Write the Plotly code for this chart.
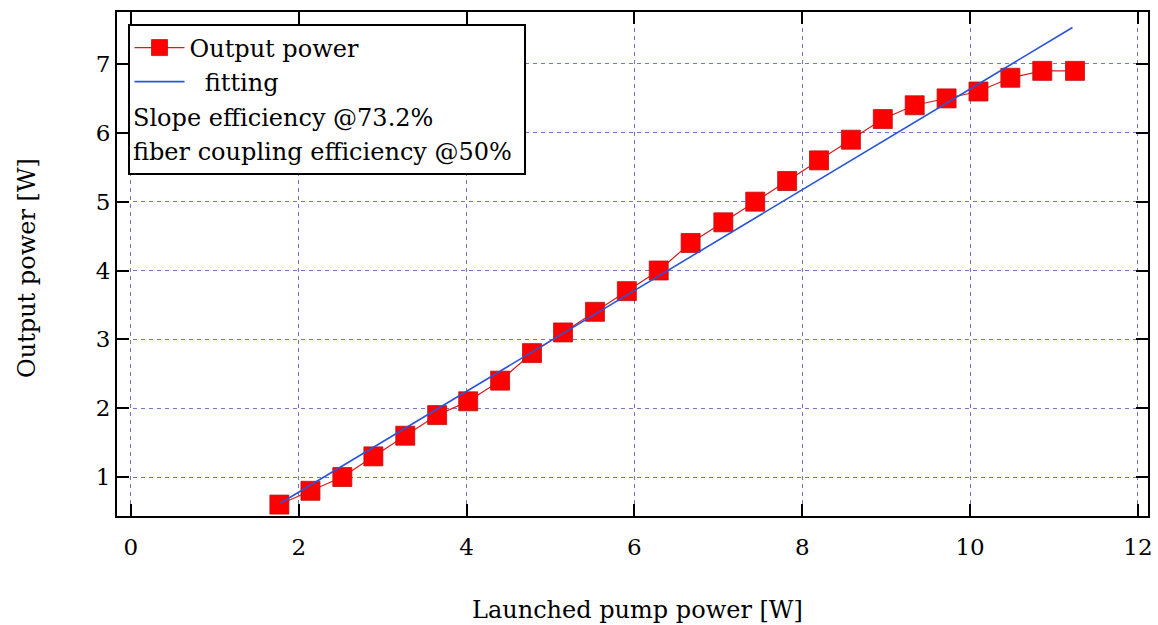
import plotly.graph_objects as go

pump_power = [1.77, 2.14, 2.52, 2.89, 3.27, 3.65, 4.02, 4.40, 4.78, 5.15, 5.53, 5.91, 6.29,
              6.67, 7.06, 7.44, 7.82, 8.20, 8.58, 8.96, 9.34, 9.72, 10.10, 10.48, 10.86, 11.25]
output_power = [0.6, 0.8, 1.0, 1.3, 1.6, 1.9, 2.1, 2.4, 2.8, 3.1, 3.4, 3.7, 4.0,
                4.4, 4.7, 5.0, 5.3, 5.6, 5.9, 6.2, 6.4, 6.5, 6.6, 6.8, 6.9, 6.9]
fit_x = [1.78, 11.22]
fit_y = [0.62, 7.53]

x_ticks = [0, 2, 4, 6, 8, 10, 12]
y_ticks = [1, 2, 3, 4, 5, 6, 7]

FONT = "DejaVu Serif"
FS = 24
GRID = "#7674c6"

L, R, T, B = 117, 10, 12, 109
PW, PH = 1158 - L - R, 625 - T - B

fig = go.Figure()
fig.add_trace(go.Scatter(
    x=pump_power, y=output_power, mode="lines+markers", name="Output power",
    line=dict(color="#d41c1c", width=1.2),
    marker=dict(symbol="square", size=19, color="#ff0000",
                line=dict(color="#c01010", width=0.8)),
    legend="legend"))
fig.add_trace(go.Scatter(
    x=fit_x, y=fit_y, mode="lines", name="\u00a0\u00a0fitting",
    line=dict(color="#2a55d8", width=1.6),
    legend="legend2"))

axis_common = dict(
    showline=True, linecolor="black", linewidth=2, mirror="ticks",
    ticks="inside", ticklen=12, tickwidth=2, tickcolor="black",
    showgrid=True, gridcolor=GRID, gridwidth=1, griddash="4px,4px",
    zeroline=False, tickfont=dict(family=FONT, size=23, color="black"),
    ticklabeloverflow="allow", automargin=False,
)

fig.update_xaxes(range=[-0.165, 12.12], tickvals=x_ticks, **axis_common,
                 ticklabelstandoff=9)
fig.update_yaxes(range=[0.434, 7.755], tickvals=y_ticks, **axis_common,
                 ticklabelstandoff=0)

# axis titles
fig.add_annotation(x=(637 - L) / PW, y=(516 - 610) / PH, xref="paper", yref="paper",
                   text="Launched pump power [W]",
                   showarrow=False, xanchor="center", yanchor="middle",
                   font=dict(family=FONT, size=FS, color="black"))
fig.add_annotation(x=(27 - L) / PW, y=(516 - 268) / PH, xref="paper", yref="paper",
                   text="Output power [W]", textangle=-90,
                   showarrow=False, xanchor="center", yanchor="middle",
                   font=dict(family=FONT, size=FS, color="black"))

# legend box
fig.add_shape(type="rect", xref="paper", yref="paper",
              x0=(129 - L) / PW, x1=(525 - L) / PW,
              y0=(516 - 174) / PH, y1=(516 - 25) / PH,
              line=dict(color="black", width=2), fillcolor="white", layer="above")

legend_style = dict(font=dict(family=FONT, size=FS, color="black"),
                    bgcolor="rgba(0,0,0,0)", borderwidth=0, itemwidth=50,
                    xanchor="left", yanchor="middle", xref="paper", yref="paper")
fig.update_layout(
    legend=dict(x=(129.5 - L) / PW, y=(516 - 48) / PH, **legend_style),
    legend2=dict(x=(129.5 - L) / PW, y=(516 - 82) / PH, **legend_style),
)

fig.add_annotation(x=(131 - L) / PW, y=(516 - 118) / PH, xref="paper", yref="paper",
                   text="Slope efficiency @73.2%", showarrow=False,
                   xanchor="left", yanchor="middle",
                   font=dict(family=FONT, size=FS, color="black"))
fig.add_annotation(x=(131 - L) / PW, y=(516 - 152) / PH, xref="paper", yref="paper",
                   text="fiber coupling efficiency @50%", showarrow=False,
                   xanchor="left", yanchor="middle",
                   font=dict(family=FONT, size=FS, color="black"))

fig.update_layout(
    width=1158, height=625,
    margin=dict(l=L, r=R, t=T, b=B, autoexpand=False),
    plot_bgcolor="white", paper_bgcolor="white",
    showlegend=True,
)

fig.write_html("out.html")
